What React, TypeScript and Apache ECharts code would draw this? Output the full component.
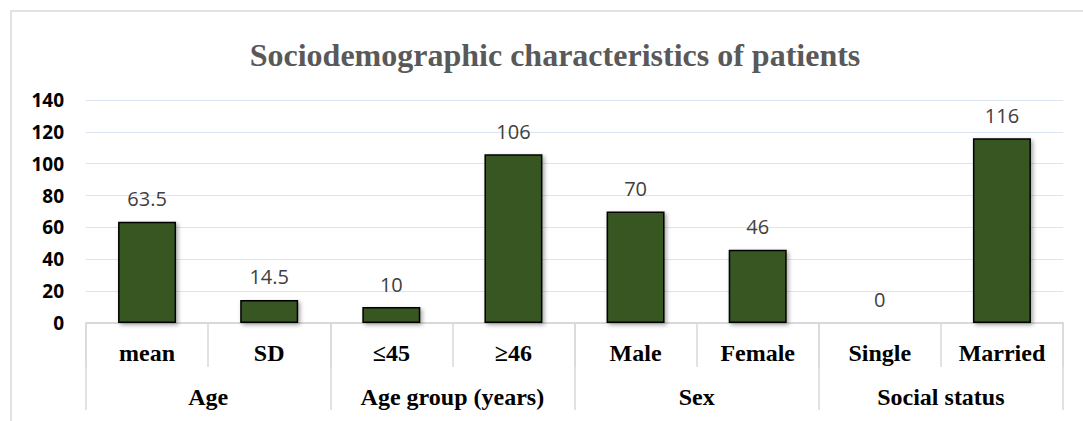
import React, { useEffect, useRef } from "react";
import * as echarts from "echarts";

const categories = ["mean", "SD", "≤45", "≥46", "Male", "Female", "Single", "Married"];
const groups = ["Age", "Age group (years)", "Sex", "Social status"];
const values = [63.5, 14.5, 10, 106, 70, 46, 0, 116];
const yTicks = { min: 0, max: 140, interval: 20 };
const titleText = "Sociodemographic characteristics of patients";

export default function App() {
  const ref = useRef<HTMLDivElement>(null);
  useEffect(() => {
    if (!ref.current) return;
    const chart = echarts.init(ref.current, null, { renderer: "svg" });
    chart.setOption({
      animation: false,
      backgroundColor: "#ffffff",
      title: {
        text: titleText,
        left: 550,
        top: 34,
        textAlign: "center",
        textStyle: {
          fontFamily: "Liberation Serif",
          fontWeight: "bold",
          fontSize: 32,
          color: "#595959",
        },
      },
      graphic: [
        {
          type: "rect",
          shape: { x: 11, y: 11, width: 1200, height: 600 },
          style: { fill: "none", stroke: "#d9d9d9", lineWidth: 1.5 },
          silent: true,
        },
      ],
      grid: { left: 86, right: 20, top: 100, bottom: 98 },
      xAxis: [
        {
          type: "category",
          data: categories,
          position: "bottom",
          axisLine: { show: true, lineStyle: { color: "#d9d9d9", width: 2 } },
          axisTick: { show: true, length: 44, interval: 0, lineStyle: { color: "#d9d9d9", width: 1.5 } },
          axisLabel: {
            interval: 0,
            margin: 18,
            fontFamily: "Liberation Serif",
            fontWeight: "bold",
            fontSize: 24,
            color: "#000000",
          },
        },
        {
          type: "category",
          data: groups,
          position: "bottom",
          gridIndex: 0,
          axisLine: { show: false },
          axisTick: { show: true, length: 87, interval: 0, lineStyle: { color: "#d9d9d9", width: 1.5 } },
          axisLabel: {
            interval: 0,
            margin: 62,
            fontFamily: "Liberation Serif",
            fontWeight: "bold",
            fontSize: 24,
            color: "#000000",
          },
        },
      ],
      yAxis: {
        type: "value",
        min: yTicks.min,
        max: yTicks.max,
        interval: yTicks.interval,
        axisLine: { show: false },
        axisTick: { show: false },
        splitLine: { lineStyle: { color: "#dbe5f1", width: 1.2 } },
        axisLabel: {
          margin: 22,
          fontFamily: "Open Sans",
          fontWeight: "bold",
          fontSize: 19,
          color: "#000000",
        },
      },
      series: [
        {
          type: "bar",
          xAxisIndex: 0,
          data: values,
          barWidth: 58,
          itemStyle: {
            color: "#375623",
            borderColor: "#000000",
            borderWidth: 1.5,
            shadowBlur: 4,
            shadowColor: "rgba(0,0,0,0.35)",
            shadowOffsetX: 2,
            shadowOffsetY: 2,
          },
          label: {
            show: true,
            position: "top",
            distance: 13,
            fontFamily: "Open Sans",
            fontSize: 20,
            color: "#404040",
          },
        },
      ],
    });
    return () => chart.dispose();
  }, []);
  return (
    <div
      ref={ref}
      style={{ position: "fixed", left: 0, top: 0, width: 1083, height: 421 }}
    />
  );
}
